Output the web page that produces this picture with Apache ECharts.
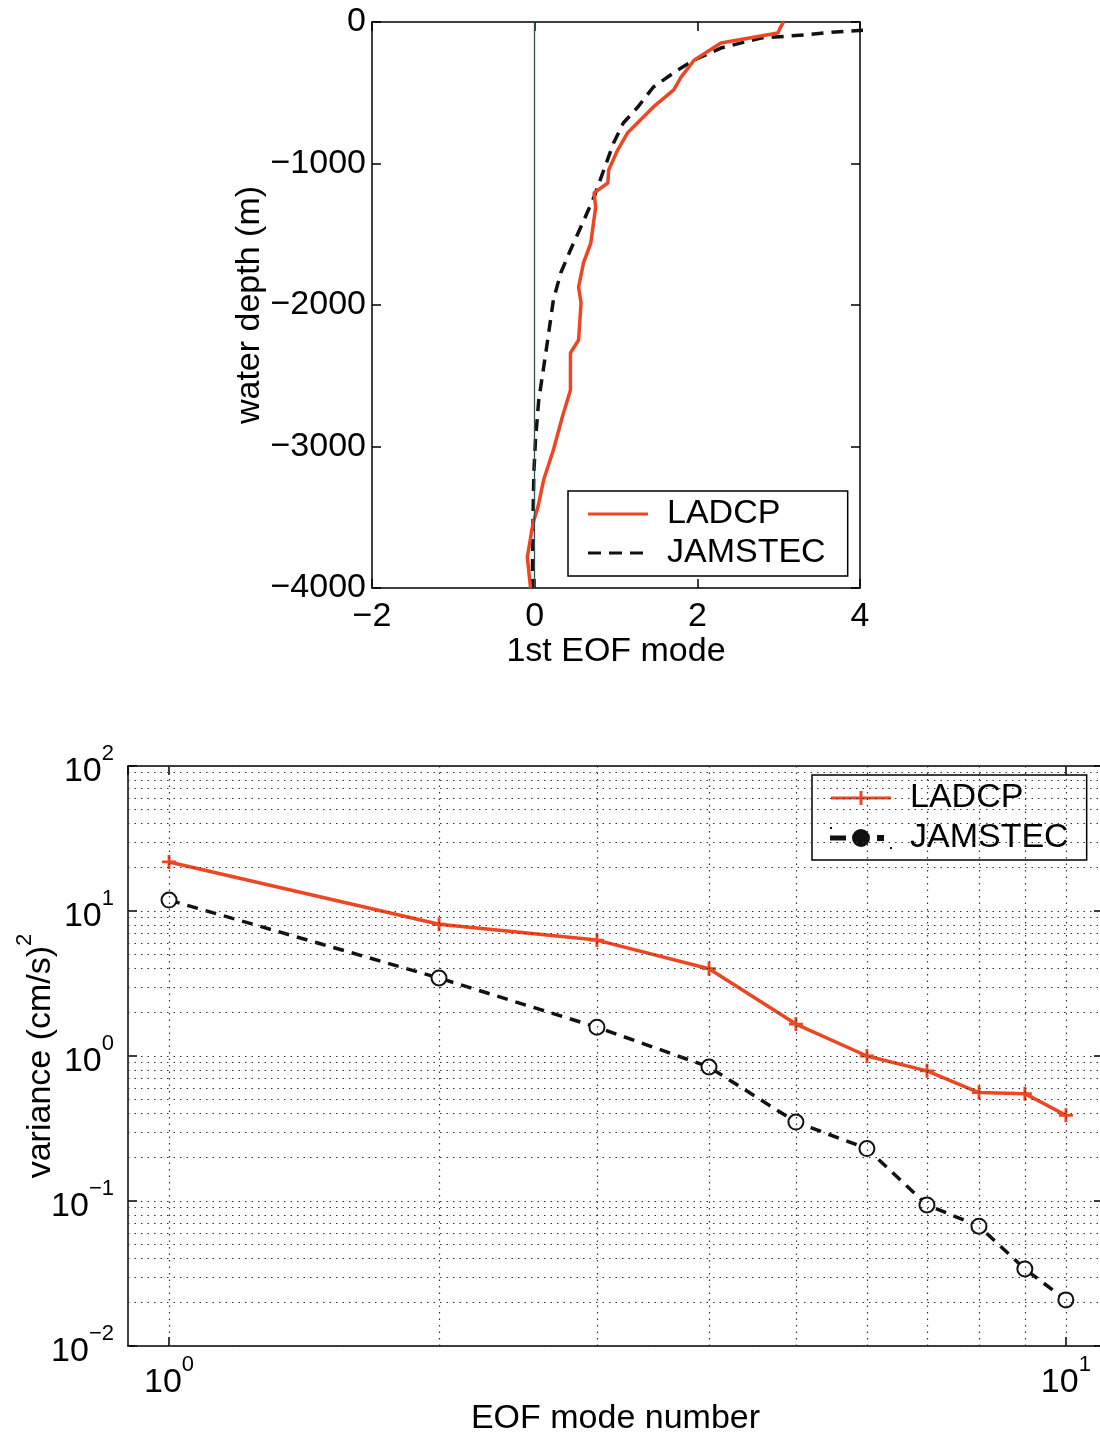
<!DOCTYPE html>
<html><head><meta charset="utf-8">
<script src="https://cdn.jsdelivr.net/npm/echarts@6/dist/echarts.min.js"></script>
<style>html,body{margin:0;padding:0;background:#fff}#c{width:1100px;height:1435px}</style>
</head><body><div id="c"></div>
<script>
// ---- Top panel: 1st EOF mode profiles ----
const ladcpDepth = [0, -40, -78, -148, -270, -390, -480, -600, -785, -905, -1046, -1138, -1208, -1307, -1562, -1703, -1873, -1986, -2247, -2339, -2601, -2792, -3025, -3237, -3428, -3541, -3781, -3894, -4000];
const ladcpMode1 = [3.06, 3.02, 2.99, 2.29, 1.96, 1.80, 1.71, 1.46, 1.14, 1.02, 0.91, 0.90, 0.73, 0.75, 0.69, 0.60, 0.54, 0.57, 0.54, 0.44, 0.44, 0.34, 0.23, 0.11, 0.04, -0.02, -0.09, -0.07, -0.05];
const jamstecDepth = [-30, -50, -70, -92, -113, -184, -269, -339, -459, -600, -714, -855, -1046, -1237, -1420, -1611, -1774, -1965, -2247, -2481, -2671, -2954, -3187, -3500, -4000];
const jamstecMode1 = [6.5, 4.3, 3.7, 3.31, 2.78, 2.29, 1.96, 1.76, 1.46, 1.27, 1.09, 0.97, 0.85, 0.73, 0.59, 0.44, 0.32, 0.23, 0.16, 0.10, 0.05, 0.01, -0.01, -0.02, -0.03];

// ---- Bottom panel: variance per EOF mode ----
const modeNumbers = [1, 2, 3, 4, 5, 6, 7, 8, 9, 10];
const varianceLadcp = [21.8, 8.1, 6.3, 4.0, 1.66, 1.0, 0.79, 0.56, 0.55, 0.39];
const varianceJamstec = [11.9, 3.45, 1.58, 0.84, 0.35, 0.23, 0.094, 0.067, 0.034, 0.0208];

const seriesNames = ['LADCP', 'JAMSTEC'];
const gridXValues = [1, 2, 3, 4, 5, 6, 7, 8, 9, 10];
const gridYMantissas = [1, 2, 3, 4, 5, 6, 7, 8, 9];
const gridYDecades = [0.01, 0.1, 1, 10];

const RED = '#ee4623';
const BLACK = '#111';
const FONT = 'Liberation Sans, Arial, Helvetica, sans-serif';
const minus = v => (v < 0 ? '\u2212' + Math.abs(v) : String(v));

const gridY = [];
gridYDecades.forEach(d => gridYMantissas.forEach(m => gridY.push(+(m * d).toPrecision(3))));
gridY.push(100);

const pow10Label = v => {
  const l = Math.log10(v), e = Math.round(l);
  if (Math.abs(l - e) > 1e-6) return '';
  return '{b|10}{s|' + (e < 0 ? '\u2212' + (-e) : e) + '}';
};
const supRich = {
  b: { fontSize: 34, fontFamily: FONT, color: '#000', lineHeight: 46, verticalAlign: 'bottom' },
  s: { fontSize: 22, fontFamily: FONT, color: '#000', lineHeight: 22, verticalAlign: 'top' }
};

// legend icons (60 x 20 boxes; tiny corner squares fix the extent)
const BOX = 'M0,0H0.01V0.01H0Z M59.99,19.99H60V20H59.99Z ';
const ICON_SOLID = 'path://' + BOX + 'M0,8.5H60V11.5H0Z';
const ICON_DASH = 'path://' + BOX + 'M0,8.5H13V11.5H0Z M21,8.5H34V11.5H21Z M42,8.5H55V11.5H42Z';
const ICON_PLUS = 'path://' + BOX + 'M0,8.5H60V11.5H0Z M28.5,3H31.5V17H28.5Z';
const ICON_DASHDOT = 'path://' + BOX + 'M0,8.5H14V11.5H0Z M22,10A8,8 0 1 1 38,10A8,8 0 1 1 22,10Z M47,8H52V12H47Z';

const axisLineStyle = { onZero: false, lineStyle: { color: '#000', width: 1.5 } };
const tickIn = { inside: true, length: 9, lineStyle: { color: '#000', width: 1.5 } };

const chart = echarts.init(document.getElementById('c'), null, { renderer: 'canvas' });
chart.setOption({
  animation: false,
  backgroundColor: '#fff',
  textStyle: { fontFamily: FONT },
  grid: [
    { left: 372, top: 22, width: 488, height: 566, containLabel: false, outerBoundsMode: 'none' },
    { left: 128, top: 766, width: 975, height: 580, containLabel: false, outerBoundsMode: 'none' }
  ],
  legend: [
    {
      data: [{ name: seriesNames[0], icon: ICON_SOLID }, { name: seriesNames[1], icon: ICON_DASH }],
      orient: 'vertical', left: 568, top: 491,
      padding: [6, 22, 6, 20], itemGap: 5, itemWidth: 60, itemHeight: 20,
      borderColor: '#000', borderWidth: 1.5, backgroundColor: '#fff',
      textStyle: { fontSize: 34, color: '#000', fontFamily: FONT, padding: [0, 0, 0, 14] },
      selectedMode: false
    },
    {
      data: [{ name: seriesNames[0] + ' ', icon: ICON_PLUS }, { name: seriesNames[1] + ' ', icon: ICON_DASHDOT }],
      orient: 'vertical', left: 812, top: 775,
      padding: [6, 18, 5, 18], itemGap: 6, itemWidth: 60, itemHeight: 20,
      borderColor: '#000', borderWidth: 1.5, backgroundColor: '#fff',
      formatter: n => n.trim(),
      textStyle: { fontSize: 34, color: '#000', fontFamily: FONT, padding: [0, 0, 0, 14] },
      selectedMode: false
    }
  ],
  xAxis: [
    {
      gridIndex: 0, type: 'value', position: 'bottom', min: -2, max: 4, interval: 2,
      axisLine: axisLineStyle, axisTick: tickIn, splitLine: { show: false },
      axisLabel: { fontSize: 34, color: '#000', margin: 12, formatter: minus, fontFamily: FONT },
      name: '1st EOF mode', nameLocation: 'middle', nameGap: 47, nameMoveOverlap: false,
      nameTextStyle: { fontSize: 34, color: '#000', fontFamily: FONT }
    },
    {
      gridIndex: 0, type: 'value', position: 'top', min: -2, max: 4, interval: 2,
      axisLine: axisLineStyle, axisTick: tickIn, splitLine: { show: false }, axisLabel: { show: false }
    },
    {
      gridIndex: 1, type: 'log', logBase: 10, position: 'bottom', min: 0.9, max: 11,
      axisLine: axisLineStyle, axisTick: tickIn, splitLine: { show: false },
      axisLabel: { formatter: pow10Label, rich: supRich, margin: 8, showMinLabel: false, showMaxLabel: false },
      name: 'EOF mode number', nameLocation: 'middle', nameGap: 56, nameMoveOverlap: false,
      nameTextStyle: { fontSize: 34, color: '#000', fontFamily: FONT }
    },
    {
      gridIndex: 1, type: 'log', logBase: 10, position: 'top', min: 0.9, max: 11,
      axisLine: axisLineStyle, axisTick: tickIn, splitLine: { show: false }, axisLabel: { show: false }
    }
  ],
  yAxis: [
    {
      gridIndex: 0, type: 'value', position: 'left', min: -4000, max: 0, interval: 1000,
      axisLine: axisLineStyle, axisTick: tickIn, splitLine: { show: false },
      axisLabel: { fontSize: 34, color: '#000', margin: 6, formatter: minus, fontFamily: FONT },
      name: 'water depth (m)', nameLocation: 'middle', nameRotate: 90, nameGap: 105, nameMoveOverlap: false,
      nameTextStyle: { fontSize: 34, color: '#000', fontFamily: FONT }
    },
    {
      gridIndex: 0, type: 'value', position: 'right', min: -4000, max: 0, interval: 1000,
      axisLine: axisLineStyle, axisTick: tickIn, splitLine: { show: false }, axisLabel: { show: false }
    },
    {
      gridIndex: 1, type: 'log', logBase: 10, position: 'left', min: 0.01, max: 100,
      axisLine: axisLineStyle, axisTick: tickIn, splitLine: { show: false },
      axisLabel: { formatter: pow10Label, rich: supRich, margin: 14 },
      name: '{t|variance (cm/s)}{s|2}', nameLocation: 'middle', nameRotate: 90, nameGap: 70, nameMoveOverlap: false,
      nameTextStyle: {
        rich: {
          t: { fontSize: 34, fontFamily: FONT, color: '#000', lineHeight: 44, verticalAlign: 'bottom' },
          s: { fontSize: 22, fontFamily: FONT, color: '#000', lineHeight: 22, verticalAlign: 'top' }
        }
      }
    },
    {
      gridIndex: 1, type: 'log', logBase: 10, position: 'right', min: 0.01, max: 100,
      axisLine: axisLineStyle, axisTick: tickIn, splitLine: { show: false }, axisLabel: { show: false }
    }
  ],
  series: [
    {
      name: seriesNames[0], type: 'line', xAxisIndex: 0, yAxisIndex: 0,
      data: ladcpMode1.map((x, i) => [x, ladcpDepth[i]]),
      showSymbol: false, symbol: 'none', clip: true, z: 3,
      lineStyle: { color: RED, width: 3.5 }, itemStyle: { color: RED },
      markLine: {
        silent: true, symbol: ['none', 'none'], label: { show: false },
        lineStyle: { color: '#2f4f4f', width: 1.3, type: 'solid' },
        data: [{ xAxis: 0 }]
      }
    },
    {
      name: seriesNames[1], type: 'line', xAxisIndex: 0, yAxisIndex: 0,
      data: jamstecMode1.map((x, i) => [x, jamstecDepth[i]]),
      showSymbol: false, symbol: 'none', clip: true, z: 2,
      lineStyle: { color: BLACK, width: 3.5, type: [12, 8] }, itemStyle: { color: BLACK }
    },
    {
      name: seriesNames[0] + ' ', type: 'line', xAxisIndex: 2, yAxisIndex: 2,
      data: modeNumbers.map((m, i) => [m, varianceLadcp[i]]),
      symbol: 'path://M4,0H6V4H10V6H6V10H4V6H0V4H4Z', symbolSize: 14, z: 3,
      lineStyle: { color: RED, width: 3.5 }, itemStyle: { color: RED },
      markLine: {
        silent: true, symbol: ['none', 'none'], label: { show: false },
        lineStyle: { color: '#333', width: 1.2, type: [1.5, 5] },
        data: gridXValues.map(v => ({ xAxis: v })).concat(gridY.map(v => ({ yAxis: v })))
      }
    },
    {
      name: seriesNames[1] + ' ', type: 'line', xAxisIndex: 2, yAxisIndex: 2,
      data: modeNumbers.map((m, i) => [m, varianceJamstec[i]]),
      symbol: 'emptyCircle', symbolSize: 15, z: 3,
      lineStyle: { color: BLACK, width: 3.5, type: [11, 8] },
      itemStyle: { color: BLACK, borderColor: BLACK, borderWidth: 3.5 }
    }
  ]
});
</script></body></html>
